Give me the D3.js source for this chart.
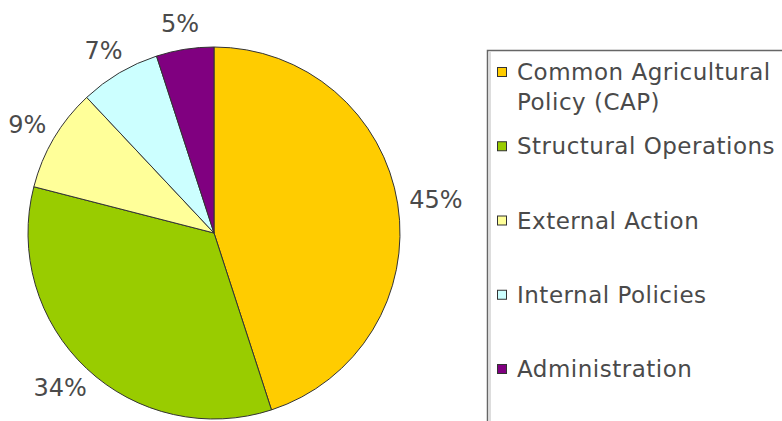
<!DOCTYPE html>
<html>
<head>
    <meta charset="utf-8">
    <script src="https://d3js.org/d3.v7.min.js"></script>
    <style>
        body { margin: 0; background: #fff; }
        svg { display: block; }
        .lbl { font-family: "DejaVu Sans", Verdana, sans-serif; fill: #4a4a4a; }
    </style>
</head>
<body>
    <div id="chart"></div>
    <script>
        // data
        var categories = ["Common Agricultural Policy (CAP)", "Structural Operations", "External Action", "Internal Policies", "Administration"];
        var legendLines = [["Common Agricultural", "Policy (CAP)"], ["Structural Operations"], ["External Action"], ["Internal Policies"], ["Administration"]];
        var shares = [45, 34, 9, 7, 5];
        var colours = ["#ffcc00", "#99cc00", "#ffff99", "#ccffff", "#800080"];

        var width = 782, height = 421;
        var cx = 214, cy = 233, r = 186;

        var svg = d3.select("#chart").append("svg")
            .attr("width", width)
            .attr("height", height);

        var pie = d3.pie().sort(null).value(function (d) { return d; });
        var arcs = pie(shares);
        var arc = d3.arc().innerRadius(0).outerRadius(r);

        var g = svg.append("g").attr("transform", "translate(" + cx + "," + cy + ")");

        g.selectAll("path")
            .data(arcs)
            .enter()
            .append("path")
            .attr("d", arc)
            .attr("fill", function (d, i) { return colours[i]; })
            .attr("stroke", "#333")
            .attr("stroke-width", 1);

        // percent labels outside the pie
        var fs = 24;
        g.selectAll("text.pct")
            .data(arcs)
            .enter()
            .append("text")
            .attr("class", "lbl pct")
            .style("font-size", fs + "px")
            .attr("text-anchor", "middle")
            .attr("dominant-baseline", "central")
            .text(function (d) { return d.data + "%"; })
            .each(function (d) {
                var a = (d.startAngle + d.endAngle) / 2;
                var w = this.getComputedTextLength();
                var s = Math.sin(a), c = Math.cos(a);
                var x = (r + 12) * s + (w / 2) * s;
                var y = -(r + 14) * c - (fs * 0.5) * c;
                d3.select(this).attr("x", x).attr("y", y);
            });

        // legend
        var lx = 487, ly = 50;
        svg.append("rect")
            .attr("x", lx + 0.5).attr("y", ly + 0.5)
            .attr("width", width).attr("height", height)
            .attr("fill", "none")
            .attr("stroke", "#666")
            .attr("stroke-width", 1.5);
        svg.append("line")
            .attr("x1", lx + 3).attr("x2", lx + 3)
            .attr("y1", ly + 2).attr("y2", height)
            .attr("stroke", "#bbb");

        var yStep = d3.scaleLinear().domain([0, categories.length - 1]).range([72, 369]);

        var item = svg.selectAll("g.item")
            .data(categories)
            .enter()
            .append("g")
            .attr("class", "item")
            .attr("transform", function (d, i) { return "translate(" + lx + "," + yStep(i) + ")"; });

        item.append("rect")
            .attr("x", 10.5).attr("y", -4.5)
            .attr("width", 9).attr("height", 9)
            .attr("fill", function (d, i) { return colours[i]; })
            .attr("stroke", "#333");

        item.append("text")
            .attr("class", "lbl")
            .style("font-size", "23px")
            .style("letter-spacing", "0.5px")
            .attr("x", 30)
            .attr("dominant-baseline", "central")
            .selectAll("tspan")
            .data(function (d, i) { return legendLines[i]; })
            .enter()
            .append("tspan")
            .attr("x", 30)
            .attr("dy", function (d, j) { return j === 0 ? 0 : 30; })
            .text(function (d) { return d; });
    </script>
</body>
</html>
